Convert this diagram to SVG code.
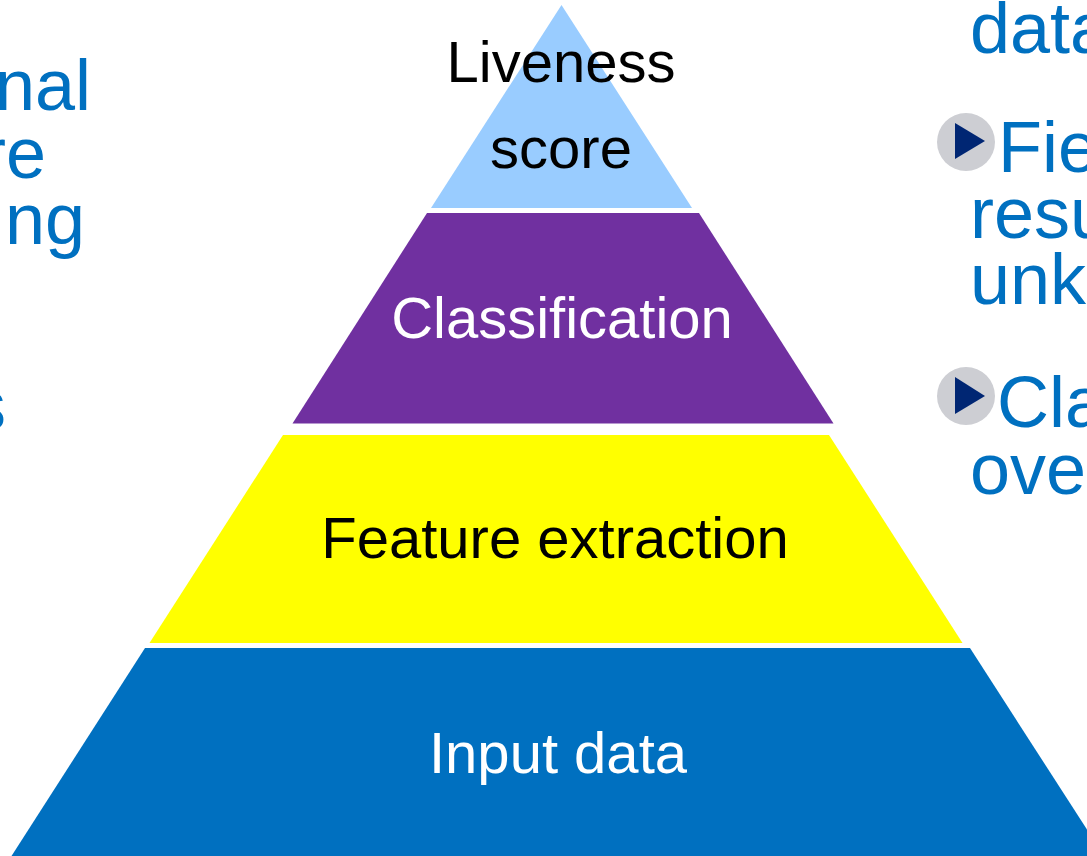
<svg xmlns="http://www.w3.org/2000/svg" width="1087" height="856" viewBox="0 0 1087 856">
<style>
.lbl{font-family:"Liberation Sans",Arial,sans-serif;font-size:58px;text-anchor:middle}
.side{font-family:"Liberation Sans",Arial,sans-serif;font-size:72px;fill:#0070C0}
.bc{fill:#CDCED3}
.bt{fill:#002673}
</style>
<rect width="1087" height="856" fill="#FFFFFF"/>
<g id="left-text">
<text class="side" x="91" y="110" text-anchor="end">nal</text>
<text class="side" x="46" y="178" text-anchor="end">re</text>
<text class="side" x="85" y="244" text-anchor="end">ng</text>
<text class="side" x="6" y="430" text-anchor="end">s</text>
</g>
<g id="right-text">
<text class="side" x="970" y="53">data</text>
<circle class="bc" cx="966" cy="142" r="29"/>
<polygon class="bt" points="955,123 985,141 955,159"/>
<text class="side" x="998" y="172">Fie</text>
<text class="side" x="970" y="238">resu</text>
<text class="side" x="970" y="304">unk</text>
<circle class="bc" cx="966" cy="396" r="29"/>
<polygon class="bt" points="955,377 985,396 955,414"/>
<text class="side" x="997" y="427">Cla</text>
<text class="side" x="970" y="494">ove</text>
</g>
<g id="connectors"></g>
<g id="layer-liveness">
<polygon points="561.5,5 692,208 431,208" fill="#99CCFF"/>
<text class="lbl" x="561" y="82" fill="#000000">Liveness</text>
<text class="lbl" x="561" y="168" fill="#000000">score</text>
</g>
<g id="layer-classification">
<polygon points="427,213 699,213 833.5,423.5 292.5,423.5" fill="#7030A0"/>
<text class="lbl" x="562" y="338" fill="#FFFFFF">Classification</text>
</g>
<g id="layer-feature">
<polygon points="283,435 829,435 962.5,643 149.5,643" fill="#FFFF00"/>
<text class="lbl" x="555" y="558" fill="#000000">Feature extraction</text>
</g>
<g id="layer-input">
<polygon points="145,648 970,648 1104,856 11.5,856" fill="#0070C0"/>
<text class="lbl" x="558" y="773" fill="#FFFFFF">Input data</text>
</g>
</svg>
